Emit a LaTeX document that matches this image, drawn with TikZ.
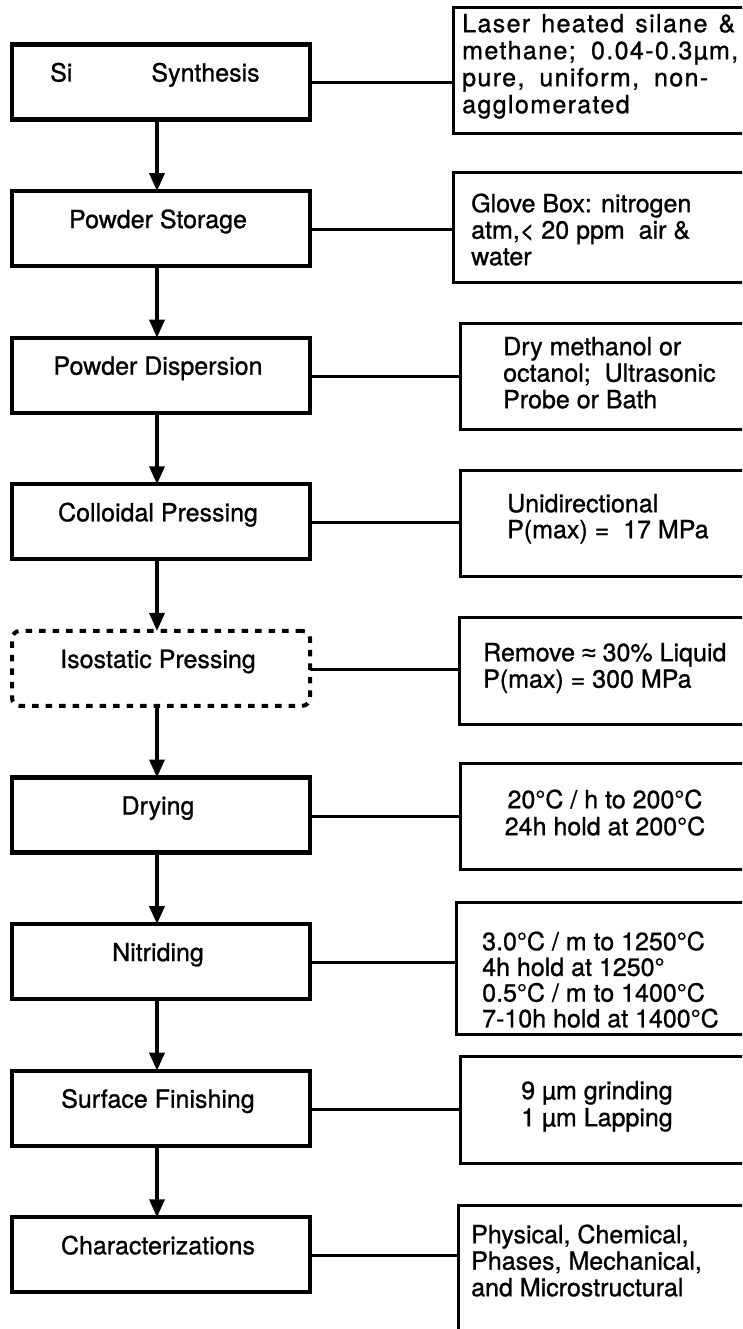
\documentclass[tikz,border=0pt]{standalone}
\usepackage{fontspec}
\setmainfont{TeX Gyre Heros}[FakeBold=1]
\newfontfamily\symf{Liberation Sans}[FakeBold=1]
\usetikzlibrary{arrows.meta}
\newcommand{\fl}{\rule{0pt}{20pt}}
\begin{document}
\begin{tikzpicture}[x=1pt,y=-1pt,
  lbox/.style={draw, line width=4.2pt, minimum width=298pt, minimum height=75pt,
    inner sep=0pt, outer sep=0pt, anchor=north west},
  dbox/.style={lbox, line width=4pt, dash pattern=on 6.5pt off 7pt, rounded corners=8pt},
  rbox/.style={draw, line width=3pt, minimum width=300pt, inner sep=0pt, outer sep=0pt,
    anchor=north west},
  ltext/.style={font=\fontsize{25}{27}\selectfont, inner sep=0pt, anchor=base},
  rtext/.style={font=\fontsize{25}{26.5}\selectfont, inner sep=0pt, anchor=north west, align=left},
  ctext/.style={font=\fontsize{25}{27}\selectfont, inner sep=0pt, anchor=north, align=center},
  conn/.style={line width=3pt},
  arr/.style={line width=3.5pt, -{Triangle[length=18pt,width=15pt]}}]
\clip (0,0) rectangle (742,1329);
\fill[white] (0,0) rectangle (742,1329);

% left process boxes
\node[lbox] (b1) at (12,44.5) {};
\node[lbox] (b2) at (12,191.1) {};
\node[lbox] (b3) at (12,337.7) {};
\node[lbox] (b4) at (12,484.3) {};
\node[dbox] (b5) at (12,630.9) {};
\node[lbox] (b6) at (12,777.5) {};
\node[lbox] (b7) at (12,924.1) {};
\node[lbox] (b8) at (12,1070.7) {};
\node[lbox] (b9) at (12,1217.3) {};

\node[ltext, anchor=base west] (l1) at (50,81.5) {Si\hspace{79pt}Synthesis};
\node[ltext] (l2) at ([xshift=-3pt,yshift=-37pt]b2.north) {Powder Storage};
\node[ltext] (l3) at ([xshift=-3pt,yshift=-37pt]b3.north) {Powder Dispersion};
\node[ltext] (l4) at ([xshift=-3pt,yshift=-37pt]b4.north) {Colloidal Pressing};
\node[ltext] (l5) at ([xshift=-3pt,yshift=-37pt]b5.north) {Isostatic Pressing};
\node[ltext] (l6) at ([xshift=-3pt,yshift=-37pt]b6.north) {Drying};
\node[ltext] (l7) at ([xshift=-3pt,yshift=-37pt]b7.north) {Nitriding};
\node[ltext] (l8) at ([xshift=-3pt,yshift=-37pt]b8.north) {Surface Finishing};
\node[ltext] (l9) at ([xshift=-3pt,yshift=-37pt]b9.north) {Characterizations};

% right description boxes
\node[rbox, minimum height=126pt] (r1) at (453,8) {};
\node[rbox, minimum height=110pt] (r2) at (453,173) {};
\node[rbox, minimum height=106pt] (r3) at (460,323) {};
\node[rbox, minimum height=106pt] (r4) at (460,470) {};
\node[rbox, minimum height=107pt] (r5) at (459,617) {};
\node[rbox, minimum height=106pt] (r6) at (460,763) {};
\node[rbox, minimum height=132pt] (r7) at (456,902) {};
\node[rbox, minimum height=107pt] (r8) at (460,1056) {};
\node[rbox, minimum height=150pt] (r9) at (458,1205) {};

\node[rtext, font=\fontsize{25}{27}\selectfont\addfontfeature{LetterSpace=5.5}] (t1) at (462,12) {\fl\makebox[273pt][s]{Laser heated silane \&}\\
  \makebox[276pt][s]{methane; 0.04-0.3µm,}\\
  \makebox[246pt][s]{pure, uniform, non-}\\
  agglomerated};
\node[rtext] (t2) at (471,192) {\fl Glove Box: nitrogen\\ atm,< 20 ppm\ \ air \&\\ water};
\node[rtext] (t3) at (503,335) {\fl Dry methanol or\\ octanol;\ \ Ultrasonic\\ Probe or Bath};
\node[rtext, font=\fontsize{25}{26}\selectfont] (t4) at (507,492) {\fl Unidirectional\\ P(max) = \ 17 MPa};
\node[rtext] (t5) at (483,641) {\fl Remove {\symf ≈} 30\% Liquid\\ P(max) = 300 MPa};
\node[ctext] (t6) at (605,788) {\fl 20°C / h to 200°C\\ 24h hold at 200°C};
\node[rtext, font=\fontsize{25}{25.7}\selectfont] (t7) at (482,930) {\fl 3.0°C / m to 1250°C\\ 4h hold at 1250°\\ 0.5°C / m to 1400°C\\ 7-10h hold at 1400°C};
\node[ctext] (t8) at (597,1079) {\fl 9 µm grinding\\ 1 µm Lapping};
\node[rtext] (t9) at (471,1223) {\fl Physical, Chemical,\\ Phases, Mechanical,\\ and Microstructural};

% connectors
\foreach \i in {1,...,9} {
  \coordinate (c\i) at ([yshift=-1pt]b\i.east);
  \draw[conn] (c\i) -- (c\i -| r\i.west);
}

% flow arrows
\foreach \i/\j in {1/2,2/3,3/4,4/5,5/6,6/7,7/8,8/9} {
  \draw[arr] ([xshift=-4pt]b\i.south) -- ([xshift=-4pt]b\j.north);
}
\end{tikzpicture}
\end{document}
